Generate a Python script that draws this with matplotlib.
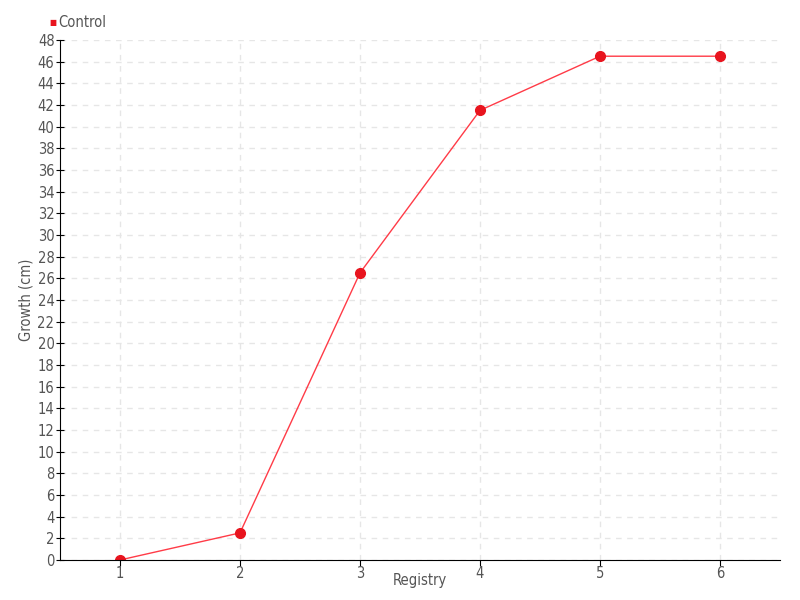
import matplotlib.pyplot as plt

registry = [1, 2, 3, 4, 5, 6]
growth = [0, 2.5, 26.5, 41.5, 46.5, 46.5]
series_name = 'Control'

plt.rcParams['font.family'] = ['DejaVu Sans']
plt.rcParams['font.stretch'] = 'condensed'

red = '#e8141e'
txt = '#555555'

fig = plt.figure(figsize=(8, 6), dpi=100)
ax = fig.add_axes([0.075, 0.0667, 0.9, 0.8667])

ax.plot(registry, growth, color='#ff3b47', lw=1, marker='o', ms=7,
        mfc=red, mec=red, label=series_name)

ax.set_xlim(0.5, 6.5)
ax.set_ylim(0, 48)
ax.set_xticks(registry)
ax.set_yticks(range(0, 49, 2))
ax.grid(True, color='#e6e6e6', ls=(0, (4, 4)), lw=1)
ax.set_axisbelow(True)
for s in ['top', 'right']:
    ax.spines[s].set_visible(False)
ax.tick_params(axis='y', direction='inout', length=6, labelsize=10.5, labelcolor=txt, pad=1)
ax.tick_params(axis='x', direction='out', length=4, labelsize=10.5, labelcolor=txt, pad=0)
ax.set_xlabel('Registry', fontsize=10.5, color=txt)
ax.set_ylabel('Growth (cm)', fontsize=10.5, color=txt)
ax.xaxis.set_label_coords(0.5, -0.04, transform=ax.transAxes)
ax.yaxis.set_label_coords(-0.047, 0.5, transform=ax.transAxes)
ax.xaxis.label.set_va('center')
ax.yaxis.label.set_va('center')

fig.text(0.062, 0.963, '\u25a0', color=red, fontsize=6, va='center', ha='left')
fig.text(0.073, 0.963, series_name, color=txt, fontsize=10.5, va='center', ha='left')

fig.savefig('out.png')
